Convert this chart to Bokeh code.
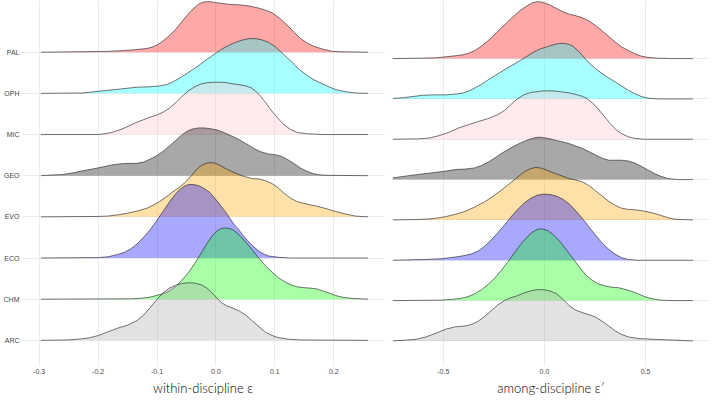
from bokeh.plotting import figure
from bokeh.layouts import row
from bokeh.models import FixedTicker, PrintfTickFormatter, Range1d
from bokeh.embed import file_html
from bokeh.resources import INLINE

# ridge heights are in units of the row spacing (1.0 = one row)

# within-discipline epsilon
PAL_W_X = [-0.297, -0.183, -0.145, -0.117, -0.107, -0.098, -0.090, -0.079, -0.068, -0.058, -0.047, -0.036,
           -0.028, -0.020, -0.011, -0.003, 0.008, 0.024, 0.040, 0.057, 0.073, 0.084, 0.095, 0.102,
           0.111, 0.122, 0.133, 0.143, 0.154, 0.165, 0.182, 0.198, 0.214, 0.258]
PAL_W_D = [0, 0.02, 0.05, 0.09, 0.13, 0.19, 0.27, 0.40, 0.56, 0.74, 0.93, 1.09,
           1.18, 1.22, 1.23, 1.21, 1.19, 1.16, 1.15, 1.12, 1.07, 1.02, 0.96, 0.89,
           0.79, 0.64, 0.48, 0.34, 0.23, 0.15, 0.07, 0.02, 0.01, 0]
OPH_W_X = [-0.297, -0.226, -0.199, -0.166, -0.134, -0.112, -0.096, -0.085, -0.074, -0.063, -0.052, -0.041,
           -0.030, -0.020, -0.009, 0.002, 0.013, 0.024, 0.035, 0.046, 0.057, 0.067, 0.078, 0.089,
           0.100, 0.111, 0.122, 0.133, 0.143, 0.154, 0.165, 0.176, 0.187, 0.198, 0.209, 0.220,
           0.236, 0.258]
OPH_W_D = [0, 0.01, 0.05, 0.10, 0.15, 0.16, 0.18, 0.21, 0.27, 0.36, 0.46, 0.56,
           0.67, 0.78, 0.89, 1.00, 1.10, 1.18, 1.25, 1.30, 1.33, 1.33, 1.30, 1.24,
           1.14, 1.00, 0.85, 0.70, 0.56, 0.44, 0.34, 0.26, 0.19, 0.12, 0.07, 0.04,
           0.01, 0]
MIC_W_X = [-0.297, -0.199, -0.188, -0.177, -0.166, -0.155, -0.145, -0.134, -0.123, -0.112, -0.101, -0.090,
           -0.079, -0.068, -0.058, -0.047, -0.036, -0.025, -0.014, -0.003, 0.008, 0.018, 0.029, 0.040,
           0.051, 0.059, 0.067, 0.076, 0.084, 0.092, 0.100, 0.108, 0.116, 0.127, 0.138, 0.154,
           0.182, 0.258]
MIC_W_D = [0, 0, 0.02, 0.05, 0.10, 0.16, 0.23, 0.30, 0.36, 0.42, 0.47, 0.54,
           0.64, 0.78, 0.92, 1.06, 1.16, 1.23, 1.26, 1.27, 1.27, 1.26, 1.23, 1.21,
           1.18, 1.14, 1.06, 0.93, 0.78, 0.62, 0.48, 0.35, 0.23, 0.12, 0.05, 0.02,
           0, 0]
GEO_W_X = [-0.297, -0.275, -0.259, -0.242, -0.226, -0.210, -0.193, -0.177, -0.161, -0.145, -0.134, -0.123,
           -0.112, -0.101, -0.090, -0.079, -0.068, -0.058, -0.049, -0.041, -0.030, -0.020, -0.009, 0.002,
           0.013, 0.024, 0.035, 0.046, 0.057, 0.067, 0.078, 0.089, 0.100, 0.111, 0.122, 0.133,
           0.143, 0.154, 0.165, 0.176, 0.187, 0.258]
GEO_W_D = [0, 0.02, 0.03, 0.07, 0.12, 0.16, 0.21, 0.26, 0.29, 0.30, 0.30, 0.33,
           0.40, 0.48, 0.59, 0.72, 0.86, 0.99, 1.08, 1.13, 1.16, 1.16, 1.14, 1.11,
           1.05, 0.98, 0.91, 0.82, 0.73, 0.64, 0.57, 0.53, 0.51, 0.47, 0.39, 0.29,
           0.19, 0.11, 0.05, 0.02, 0.01, 0]
EVO_W_X = [-0.297, -0.199, -0.183, -0.166, -0.150, -0.134, -0.117, -0.107, -0.096, -0.085, -0.074, -0.063,
           -0.052, -0.041, -0.033, -0.025, -0.017, -0.009, -0.001, 0.008, 0.018, 0.029, 0.040, 0.051,
           0.062, 0.073, 0.084, 0.095, 0.105, 0.116, 0.127, 0.138, 0.154, 0.171, 0.187, 0.203,
           0.220, 0.236, 0.258]
EVO_W_D = [0, 0.01, 0.02, 0.05, 0.09, 0.14, 0.21, 0.28, 0.37, 0.48, 0.60, 0.71,
           0.84, 1.01, 1.15, 1.25, 1.30, 1.32, 1.30, 1.24, 1.16, 1.09, 1.02, 0.97,
           0.93, 0.92, 0.88, 0.81, 0.71, 0.57, 0.45, 0.37, 0.31, 0.26, 0.20, 0.13,
           0.07, 0.02, 0]
ECO_W_X = [-0.297, -0.199, -0.183, -0.166, -0.155, -0.145, -0.134, -0.123, -0.112, -0.101, -0.090, -0.079,
           -0.068, -0.060, -0.052, -0.044, -0.036, -0.028, -0.020, -0.011, -0.003, 0.005, 0.013, 0.021,
           0.029, 0.038, 0.046, 0.054, 0.062, 0.070, 0.078, 0.089, 0.105, 0.127, 0.258]
ECO_W_D = [0, 0.01, 0.03, 0.09, 0.14, 0.22, 0.34, 0.50, 0.68, 0.90, 1.13, 1.36,
           1.57, 1.68, 1.76, 1.79, 1.78, 1.75, 1.69, 1.60, 1.47, 1.33, 1.18, 1.02,
           0.85, 0.70, 0.55, 0.42, 0.30, 0.20, 0.12, 0.05, 0.02, 0, 0]
CHM_W_X = [-0.297, -0.145, -0.128, -0.112, -0.101, -0.090, -0.079, -0.068, -0.058, -0.047, -0.036, -0.025,
           -0.014, -0.006, 0.002, 0.010, 0.018, 0.027, 0.035, 0.043, 0.051, 0.062, 0.073, 0.084,
           0.095, 0.105, 0.116, 0.127, 0.138, 0.149, 0.160, 0.171, 0.182, 0.192, 0.203, 0.214,
           0.230, 0.258]
CHM_W_D = [0, 0.01, 0.02, 0.05, 0.09, 0.13, 0.20, 0.31, 0.46, 0.64, 0.87, 1.12,
           1.38, 1.54, 1.66, 1.72, 1.73, 1.70, 1.62, 1.51, 1.38, 1.19, 0.99, 0.81,
           0.66, 0.53, 0.43, 0.35, 0.30, 0.28, 0.27, 0.25, 0.20, 0.15, 0.09, 0.05,
           0.02, 0]
ARC_W_X = [-0.297, -0.253, -0.232, -0.215, -0.199, -0.183, -0.166, -0.150, -0.134, -0.123, -0.112, -0.101,
           -0.090, -0.079, -0.068, -0.058, -0.047, -0.036, -0.025, -0.014, -0.003, 0.008, 0.018, 0.029,
           0.040, 0.051, 0.062, 0.073, 0.084, 0.095, 0.105, 0.122, 0.143, 0.258]
ARC_W_D = [0, 0.01, 0.03, 0.06, 0.12, 0.21, 0.30, 0.37, 0.48, 0.61, 0.79, 0.98,
           1.15, 1.27, 1.34, 1.38, 1.40, 1.39, 1.35, 1.26, 1.10, 0.93, 0.84, 0.78,
           0.71, 0.61, 0.47, 0.33, 0.20, 0.12, 0.07, 0.03, 0.01, 0]

# among-discipline epsilon'
PAL_A_X = [-0.750, -0.618, -0.537, -0.456, -0.408, -0.376, -0.344, -0.311, -0.279, -0.247, -0.215, -0.182,
           -0.150, -0.118, -0.085, -0.061, -0.037, -0.013, 0.011, 0.035, 0.060, 0.092, 0.124, 0.156,
           0.189, 0.221, 0.253, 0.285, 0.318, 0.350, 0.382, 0.415, 0.447, 0.479, 0.511, 0.560,
           0.624, 0.734]
PAL_A_D = [0, 0.01, 0.02, 0.06, 0.09, 0.13, 0.20, 0.31, 0.44, 0.59, 0.75, 0.91,
           1.06, 1.20, 1.31, 1.38, 1.41, 1.40, 1.36, 1.31, 1.24, 1.16, 1.10, 1.06,
           1.01, 0.93, 0.82, 0.69, 0.55, 0.41, 0.29, 0.20, 0.12, 0.06, 0.03, 0.01,
           0, 0]
OPH_A_X = [-0.750, -0.698, -0.650, -0.602, -0.553, -0.489, -0.440, -0.408, -0.376, -0.344, -0.311, -0.279,
           -0.247, -0.215, -0.182, -0.150, -0.118, -0.085, -0.053, -0.021, 0.011, 0.044, 0.068, 0.092,
           0.116, 0.140, 0.165, 0.189, 0.221, 0.253, 0.285, 0.318, 0.350, 0.382, 0.415, 0.447,
           0.479, 0.511, 0.560, 0.734]
OPH_A_D = [0.01, 0.03, 0.06, 0.09, 0.10, 0.10, 0.12, 0.14, 0.19, 0.27, 0.36, 0.47,
           0.57, 0.67, 0.77, 0.86, 0.96, 1.06, 1.16, 1.24, 1.29, 1.34, 1.37, 1.38,
           1.36, 1.31, 1.20, 1.07, 0.89, 0.75, 0.63, 0.52, 0.42, 0.32, 0.21, 0.13,
           0.06, 0.02, 0, 0]
MIC_A_X = [-0.750, -0.618, -0.569, -0.521, -0.473, -0.424, -0.376, -0.327, -0.279, -0.231, -0.198, -0.166,
           -0.134, -0.102, -0.069, -0.037, -0.005, 0.027, 0.060, 0.092, 0.124, 0.156, 0.189, 0.213,
           0.237, 0.261, 0.285, 0.310, 0.334, 0.358, 0.382, 0.415, 0.447, 0.495, 0.734]
MIC_A_D = [0, 0.01, 0.03, 0.09, 0.17, 0.28, 0.36, 0.44, 0.51, 0.61, 0.71, 0.86,
           1.00, 1.10, 1.16, 1.18, 1.20, 1.20, 1.19, 1.17, 1.15, 1.11, 1.06, 1.00,
           0.90, 0.78, 0.63, 0.48, 0.34, 0.22, 0.14, 0.06, 0.02, 0, 0]
GEO_A_X = [-0.750, -0.682, -0.618, -0.553, -0.489, -0.440, -0.392, -0.344, -0.311, -0.279, -0.247, -0.215,
           -0.182, -0.150, -0.118, -0.085, -0.053, -0.029, -0.005, 0.027, 0.060, 0.092, 0.124, 0.156,
           0.189, 0.221, 0.253, 0.285, 0.318, 0.350, 0.382, 0.415, 0.447, 0.479, 0.511, 0.544,
           0.576, 0.608, 0.640, 0.673, 0.734]
GEO_A_D = [0.04, 0.09, 0.13, 0.17, 0.21, 0.25, 0.26, 0.29, 0.35, 0.43, 0.53, 0.64,
           0.74, 0.83, 0.91, 0.98, 1.03, 1.05, 1.04, 1.01, 0.97, 0.93, 0.89, 0.83,
           0.77, 0.69, 0.61, 0.53, 0.48, 0.48, 0.48, 0.46, 0.41, 0.33, 0.24, 0.15,
           0.08, 0.03, 0.01, 0, 0]
EVO_A_X = [-0.750, -0.618, -0.553, -0.489, -0.440, -0.392, -0.344, -0.295, -0.247, -0.215, -0.182, -0.150,
           -0.118, -0.094, -0.069, -0.045, -0.021, 0.003, 0.027, 0.060, 0.092, 0.124, 0.156, 0.189,
           0.221, 0.253, 0.285, 0.318, 0.350, 0.382, 0.415, 0.447, 0.479, 0.511, 0.544, 0.576,
           0.608, 0.640, 0.673, 0.734]
EVO_A_D = [0, 0.01, 0.03, 0.08, 0.14, 0.21, 0.32, 0.45, 0.61, 0.73, 0.86, 0.99,
           1.12, 1.21, 1.27, 1.30, 1.29, 1.25, 1.20, 1.14, 1.08, 1.02, 0.99, 0.94,
           0.85, 0.72, 0.59, 0.46, 0.36, 0.29, 0.26, 0.25, 0.23, 0.20, 0.16, 0.11,
           0.06, 0.02, 0.01, 0]
ECO_A_X = [-0.750, -0.585, -0.505, -0.440, -0.392, -0.360, -0.327, -0.295, -0.263, -0.231, -0.198, -0.166,
           -0.134, -0.102, -0.069, -0.037, -0.005, 0.027, 0.060, 0.092, 0.124, 0.156, 0.189, 0.221,
           0.253, 0.285, 0.318, 0.350, 0.382, 0.415, 0.463, 0.734]
ECO_A_D = [0, 0.02, 0.04, 0.08, 0.12, 0.16, 0.23, 0.35, 0.50, 0.68, 0.87, 1.07,
           1.25, 1.41, 1.53, 1.61, 1.64, 1.63, 1.59, 1.51, 1.39, 1.22, 1.03, 0.82,
           0.62, 0.43, 0.27, 0.15, 0.06, 0.02, 0, 0]
CHM_A_X = [-0.750, -0.521, -0.456, -0.408, -0.376, -0.344, -0.311, -0.279, -0.247, -0.215, -0.182, -0.150,
           -0.118, -0.085, -0.061, -0.037, -0.021, -0.005, 0.019, 0.044, 0.076, 0.108, 0.140, 0.173,
           0.205, 0.237, 0.269, 0.302, 0.334, 0.366, 0.398, 0.431, 0.463, 0.495, 0.527, 0.576,
           0.640, 0.734]
CHM_A_D = [0, 0.01, 0.03, 0.06, 0.10, 0.17, 0.27, 0.40, 0.55, 0.74, 0.95, 1.17,
           1.39, 1.58, 1.69, 1.76, 1.78, 1.77, 1.73, 1.63, 1.47, 1.26, 1.05, 0.83,
           0.63, 0.50, 0.41, 0.36, 0.33, 0.32, 0.28, 0.23, 0.17, 0.10, 0.05, 0.01,
           0, 0]
ARC_A_X = [-0.750, -0.682, -0.634, -0.585, -0.537, -0.489, -0.440, -0.392, -0.360, -0.327, -0.295, -0.263,
           -0.231, -0.198, -0.166, -0.134, -0.102, -0.069, -0.037, -0.005, 0.027, 0.060, 0.092, 0.124,
           0.156, 0.189, 0.221, 0.253, 0.285, 0.318, 0.350, 0.382, 0.415, 0.463, 0.544, 0.640,
           0.734]
ARC_A_D = [0, 0.02, 0.04, 0.10, 0.19, 0.29, 0.35, 0.37, 0.41, 0.49, 0.61, 0.75,
           0.89, 1.00, 1.07, 1.12, 1.19, 1.24, 1.27, 1.27, 1.24, 1.17, 1.03, 0.87,
           0.76, 0.70, 0.65, 0.59, 0.49, 0.37, 0.25, 0.16, 0.10, 0.06, 0.04, 0.02,
           0]

DISCIPLINES = ["ARC", "CHM", "ECO", "EVO", "GEO", "MIC", "OPH", "PAL"]
FILLS = ["darkgray", "lime", "blue", "orange", "black", "pink", "cyan", "red"]

WITHIN_TICKS = [-0.3, -0.2, -0.1, 0.0, 0.1, 0.2]
AMONG_TICKS = [-0.5, 0.0, 0.5]

within = [(ARC_W_X, ARC_W_D), (CHM_W_X, CHM_W_D), (ECO_W_X, ECO_W_D), (EVO_W_X, EVO_W_D),
          (GEO_W_X, GEO_W_D), (MIC_W_X, MIC_W_D), (OPH_W_X, OPH_W_D), (PAL_W_X, PAL_W_D)]
among = [(ARC_A_X, ARC_A_D), (CHM_A_X, CHM_A_D), (ECO_A_X, ECO_A_D), (EVO_A_X, EVO_A_D),
         (GEO_A_X, GEO_A_D), (MIC_A_X, MIC_A_D), (OPH_A_X, OPH_A_D), (PAL_A_X, PAL_A_D)]


def ridges(curves, xr, yr, ticks, label, width, left, right, names):
    p = figure(width=width, height=398, x_range=Range1d(*xr), y_range=Range1d(*yr),
               output_backend="svg", toolbar_location=None,
               min_border_left=left, min_border_right=right,
               min_border_top=0, min_border_bottom=30)
    p.outline_line_color = None

    # top ridge first, so lower ridges sit on top
    for i in reversed(range(len(DISCIPLINES))):
        xs, dens = curves[i]
        top = [i + d for d in dens]
        p.varea(x=xs, y1=[i] * len(xs), y2=top, fill_color=FILLS[i], fill_alpha=0.34)
        p.line(xs, top, line_color="#1a1a1a", line_width=0.6)

    p.xaxis.ticker = FixedTicker(ticks=ticks)
    p.xaxis.formatter = PrintfTickFormatter(format="%.1f")
    p.xaxis.axis_label = label
    p.xaxis.axis_label_text_font = "'Lato Light', Lato"
    p.xaxis.axis_label_text_font_size = "13px"
    p.xaxis.axis_label_text_font_style = "normal"
    p.xaxis.axis_label_text_color = "black"
    p.xaxis.axis_label_standoff = 3
    p.xaxis.major_label_text_font = "Liberation Sans"
    p.xaxis.major_label_text_font_size = "7px"
    p.xaxis.major_label_text_color = "#4d4d4d"
    p.xaxis.major_label_standoff = 2

    p.yaxis.ticker = FixedTicker(ticks=list(range(len(DISCIPLINES))))
    p.yaxis.major_label_overrides = {i: n for i, n in enumerate(DISCIPLINES)}
    p.yaxis.major_label_text_font = "Liberation Sans"
    p.yaxis.major_label_text_font_size = "7px"
    p.yaxis.major_label_text_color = "#444444"
    p.yaxis.major_label_standoff = 2
    p.yaxis.visible = names

    for ax in (p.xaxis, p.yaxis):
        ax.axis_line_color = None
        ax.major_tick_line_color = None
        ax.minor_tick_line_color = None
        ax.major_tick_out = 0
        ax.major_tick_in = 0
        ax.minor_tick_out = 0

    p.ygrid.ticker = FixedTicker(ticks=list(range(len(DISCIPLINES))))
    p.xgrid.ticker = FixedTicker(ticks=ticks)
    p.grid.grid_line_color = "#ebebeb"
    p.grid.grid_line_width = 1
    return p


left = ridges(within, (-0.330, 0.286), (-0.635, 8.256), WITHIN_TICKS,
              "within-discipline ε", 388, 17, 4, True)
right = ridges(among, (-0.751, 0.816), (-0.634, 8.44), AMONG_TICKS,
               "among-discipline ε′", 321, 4, 0, False)

p = row(left, right)
open("out.html", "w").write(file_html(p, INLINE))
